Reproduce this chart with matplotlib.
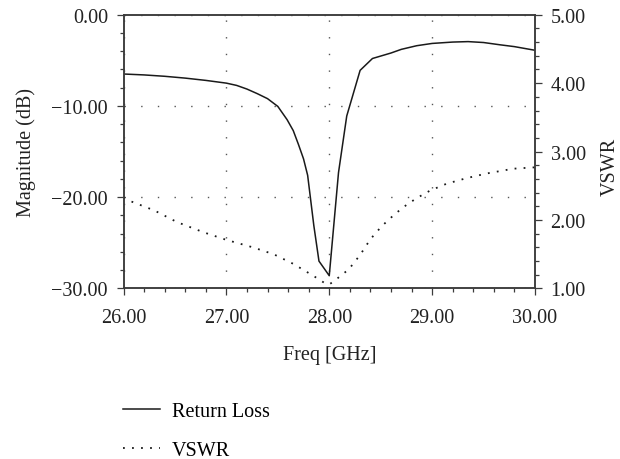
import matplotlib
matplotlib.use('Agg')
import matplotlib.pyplot as plt
from matplotlib.ticker import MultipleLocator
from matplotlib.lines import Line2D

# ---- data ----
freq_rl = [26.0, 26.2, 26.4, 26.6, 26.8, 27.0, 27.1, 27.2, 27.3, 27.4, 27.5,
           27.59, 27.65, 27.7, 27.75, 27.79, 27.85, 27.9, 28.0, 28.09, 28.17,
           28.3, 28.42, 28.6, 28.7, 28.85, 29.0, 29.2, 29.35, 29.5, 29.66,
           29.8, 30.0]
rl_db = [-6.5, -6.6, -6.75, -6.95, -7.2, -7.5, -7.75, -8.15, -8.65, -9.2,
         -10.05, -11.5, -12.7, -14.2, -15.8, -17.6, -23.1, -27.0, -28.6,
         -17.3, -11.1, -6.1, -4.8, -4.2, -3.8, -3.4, -3.15, -3.0, -2.95,
         -3.05, -3.3, -3.5, -3.9]

freq_vswr = [26.0, 26.06, 26.3, 26.52, 26.78, 27.0, 27.26, 27.46, 27.65, 27.84,
             27.97, 28.0, 28.04, 28.09, 28.19, 28.3, 28.4, 28.51, 28.64, 28.75,
             28.85, 28.98, 29.14, 29.33, 29.53, 29.79, 30.0]
vswr = [2.33, 2.28, 2.14, 1.97, 1.82, 1.71, 1.60, 1.50, 1.36, 1.19,
        1.065, 1.06, 1.10, 1.16, 1.28, 1.49, 1.72, 1.91, 2.09, 2.22,
        2.32, 2.43, 2.53, 2.61, 2.68, 2.75, 2.77]

x_ticks = [26, 27, 28, 29, 30]
x_tick_labels = ['26.00', '27.00', '28.00', '29.00', '30.00']
y_ticks = [-30, -20, -10, 0]
y_tick_labels = ['\u221230.00', '\u221220.00', '\u221210.00', '0.00']
vswr_ticks = [1, 2, 3, 4, 5]
vswr_tick_labels = ['1.00', '2.00', '3.00', '4.00', '5.00']
series_labels = ['Return Loss', 'VSWR']

# ---- style ----
plt.rcParams['font.family'] = ['Liberation Serif', 'DejaVu Serif']
plt.rcParams['font.size'] = 14.5
ink = '#1a1a1a'
spine_c = '#3c3c3c'
grid_c = '#555555'

fig = plt.figure(figsize=(6.2, 4.6), dpi=100)
ax = fig.add_axes([0.1992, 0.3707, 0.6637, 0.5952])
ax2 = ax.twinx()

ax.set_xlim(26, 30)
ax.set_ylim(-30, 0)
ax2.set_ylim(1, 5)

ax.set_xticks(x_ticks, x_tick_labels)
ax.set_yticks(y_ticks, y_tick_labels)
ax2.set_yticks(vswr_ticks, vswr_tick_labels)
ax.xaxis.set_minor_locator(MultipleLocator(0.2))
ax.yaxis.set_minor_locator(MultipleLocator(2))
ax2.yaxis.set_minor_locator(MultipleLocator(0.2))

for a in (ax, ax2):
    for s in a.spines.values():
        s.set_color(spine_c)
        s.set_linewidth(1.1)
    a.tick_params(which='major', direction='out', length=5.2, width=0.9,
                  color=spine_c, pad=6.0, labelcolor='#222222')
    a.tick_params(which='minor', direction='out', length=3.0, width=0.9,
                  color=spine_c)
ax.tick_params(axis='x', which='both', top=False)
ax.tick_params(axis='x', which='major', pad=8.5)

ax.grid(True, which='major', color=grid_c, linestyle=(0, (1, 11)),
        linewidth=1.0)
ax.set_axisbelow(True)

rl_style = dict(color=ink, linewidth=1.1, linestyle='-')
vs_style = dict(color=ink, linewidth=1.3, linestyle=(0, (1, 4.0)))

ax.plot(freq_rl, rl_db, **rl_style)
ax2.plot(freq_vswr, vswr, **vs_style)

ax.set_xlabel('Freq [GHz]', color='#222222', labelpad=13)
ax.set_ylabel('Magnitude (dB)', color='#222222')
ax2.set_ylabel('VSWR', color='#222222')
ax.yaxis.set_label_coords(-0.213, 0.5)
ax2.yaxis.set_label_coords(1.16, 0.447)

handles = [Line2D([], [], **rl_style), Line2D([], [], **vs_style)]
fig.legend(handles, series_labels, loc='upper left',
           bbox_to_anchor=(0.198, 0.124), frameon=False,
           borderaxespad=0, borderpad=0, handlelength=1.83,
           handletextpad=0.62, labelspacing=0.98)

fig.savefig('out.png', dpi=100)
